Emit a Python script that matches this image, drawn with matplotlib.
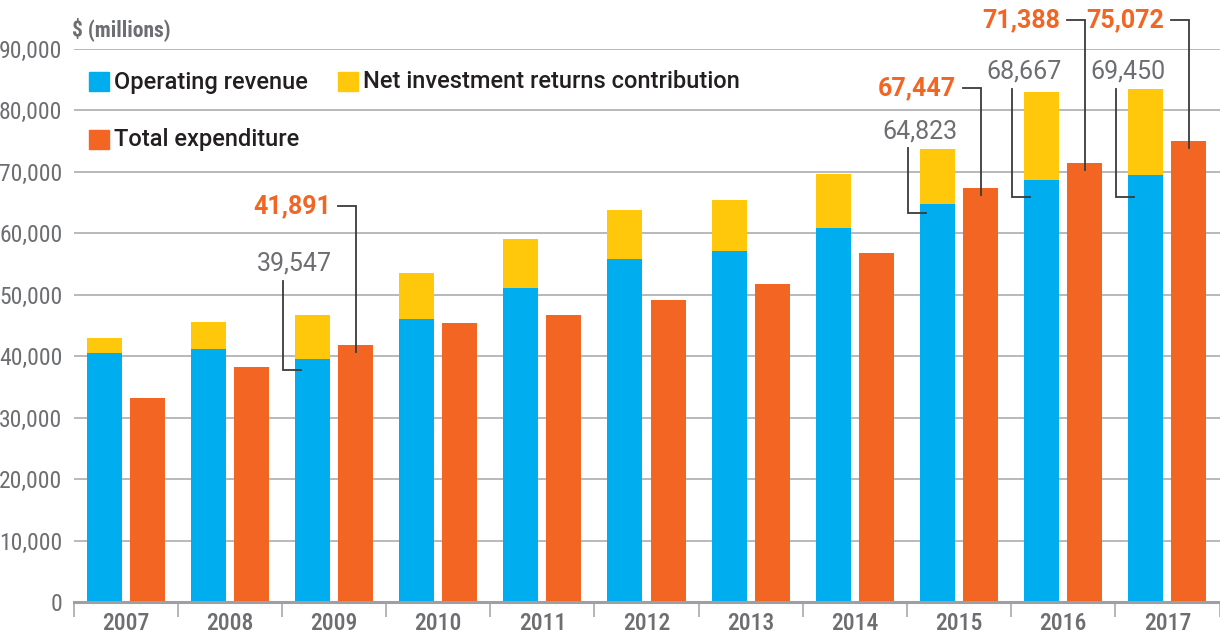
import matplotlib
matplotlib.use("Agg")
import matplotlib.pyplot as plt
from matplotlib.patches import Rectangle
import numpy as np

# data ($ millions)
years = ["2007", "2008", "2009", "2010", "2011", "2012", "2013", "2014", "2015", "2016", "2017"]
operating_revenue = [40500, 41150, 39547, 46050, 51100, 55800, 57100, 60850, 64823, 68667, 69450]
net_investment = [2450, 4400, 7150, 7450, 7950, 8000, 8300, 8800, 8900, 14350, 14050]
total_expenditure = [33200, 38250, 41891, 45400, 46700, 49150, 51750, 56800, 67447, 71388, 75072]
y_ticks = [0, 10000, 20000, 30000, 40000, 50000, 60000, 70000, 80000, 90000]

# which bars get a callout
blue_callouts = [2, 8, 9, 10]
orange_callouts = [2, 8, 9, 10]

BLUE = "#00aeef"
YELLOW = "#ffc80a"
ORANGE = "#f26522"
GREY = "#6d6e71"
DARK = "#231f20"
LEADER = "#3a3a3a"

COND = ["Roboto Condensed", "DejaVu Sans"]
ROBOTO = ["Roboto", "DejaVu Sans"]

W, H = 1220, 636
fig = plt.figure(figsize=(W / 100, H / 100), dpi=100)
ax = fig.add_axes([73.5 / W, 1 - 602 / H, 1146 / W, 553 / H])

x = np.arange(len(years))
bw = 0.336
off = 0.207

ax.bar(x - off, operating_revenue, bw, color=BLUE, zorder=2)
ax.bar(x - off, net_investment, bw, bottom=operating_revenue, color=YELLOW, zorder=2)
ax.bar(x + off, total_expenditure, bw, color=ORANGE, zorder=2)

ax.set_xlim(-0.5, len(years) - 0.5)
ax.set_ylim(0, 90000)

# axes styling
for s in ["left", "right", "top"]:
    ax.spines[s].set_visible(False)
ax.spines["bottom"].set_color("#9d9fa2")
ax.spines["bottom"].set_linewidth(2.2)
ax.spines["bottom"].set_zorder(3)

ax.set_yticks(y_ticks)
ax.set_yticklabels([f"{v:,}" for v in y_ticks], family=COND, fontsize=17, color=GREY)
ax.tick_params(axis="y", length=0, pad=8)
ax.yaxis.grid(True, color="#b1b3b6", linewidth=1.3, zorder=0)
ax.set_axisbelow(True)

ax.set_xticks(x)
ax.set_xticklabels(years, family=COND, fontsize=17, weight="medium", color=GREY)
ax.set_xticks(np.arange(-0.5, len(years)), minor=True)
ax.tick_params(axis="x", which="major", length=0, pad=7)
ax.tick_params(axis="x", which="minor", length=11, width=1.2, color="#a7a9ac", direction="out")

fig.text(72 / W, 1 - 29 / H, "$ (millions)", family=COND, weight="bold",
         fontsize=15.5, color=GREY, ha="left", va="center")

# legend, drawn by hand
legend_items = [
    (89, 72, BLUE, "Operating revenue"),
    (338, 72, YELLOW, "Net investment returns contribution"),
    (89, 130, ORANGE, "Total expenditure"),
]
for lx, ly, col, lab in legend_items:
    fig.patches.append(Rectangle((lx / W, 1 - (ly + 19) / H), 20 / W, 19 / H,
                                 transform=fig.transFigure, color=col, figure=fig))
    fig.text((lx + 25) / W, 1 - (ly + 10) / H, lab, family=ROBOTO, weight="medium",
             fontsize=17, color=DARK, ha="left", va="center")

# callouts
px_y = 90000 / 553.0   # data units per pixel
px_x = 1.0 / 104.2

blue_text_y = {2: 264, 8: 131, 9: 72, 10: 72}      # pixel rows of the label centre
blue_elbow_y = {2: 370, 8: 213, 9: 197, 10: 197}
for i in blue_callouts:
    left = x[i] - off - bw / 2
    ty = (602 - blue_text_y[i]) * px_y
    ey = (602 - blue_elbow_y[i]) * px_y
    vx = left - 12 * px_x
    ax.text(left, ty, f"{operating_revenue[i]:,}", family=ROBOTO, fontsize=18,
            color=GREY, ha="center", va="center", clip_on=False)
    ax.plot([vx, vx, left + 6 * px_x], [ty - 17 * px_y, ey, ey],
            color=LEADER, lw=1.3, clip_on=False, zorder=4, solid_joinstyle="miter")

orange_line_y = {2: 206, 8: 88, 9: 20, 10: 20}
for i in orange_callouts:
    left = x[i] + off - bw / 2
    cx = x[i] + off
    ly = (602 - orange_line_y[i]) * px_y
    ax.text(left - 7 * px_x, ly, f"{total_expenditure[i]:,}", family=ROBOTO, fontsize=18,
            weight="bold", color=ORANGE, ha="right", va="center", clip_on=False)
    ax.plot([left, cx, cx], [ly, ly, total_expenditure[i] - 7 * px_y],
            color=LEADER, lw=1.3, clip_on=False, zorder=4, solid_joinstyle="miter")

fig.savefig("out.png", dpi=100)
